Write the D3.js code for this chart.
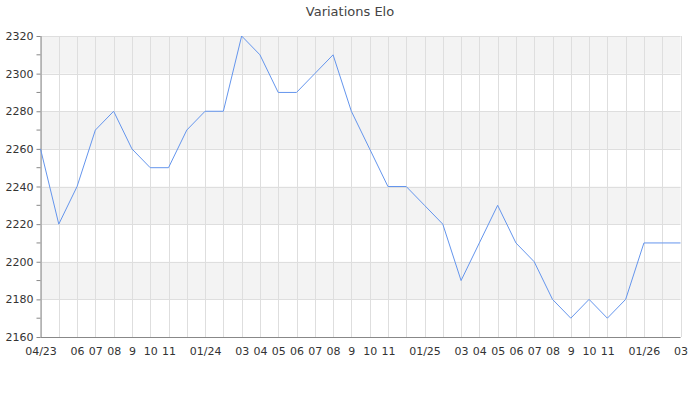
<!DOCTYPE html>
<html><head><meta charset="utf-8">
<script src="https://cdn.jsdelivr.net/npm/d3@7"></script>
<style>body{margin:0;background:#fff;font-family:"DejaVu Sans",sans-serif;}</style>
</head><body><svg id="c" width="700" height="400"></svg>
<script>
const months = ["2023-04","2023-05","2023-06","2023-07","2023-08","2023-09","2023-10","2023-11","2023-12",
"2024-01","2024-02","2024-03","2024-04","2024-05","2024-06","2024-07","2024-08","2024-09","2024-10","2024-11","2024-12",
"2025-01","2025-02","2025-03","2025-04","2025-05","2025-06","2025-07","2025-08","2025-09","2025-10","2025-11","2025-12",
"2026-01","2026-02","2026-03"];
const tickLabels = ["04/23","","06","07","08","9","10","11","",
"01/24","","03","04","05","06","07","08","9","10","11","",
"01/25","","03","04","05","06","07","08","9","10","11","",
"01/26","","03"];
const elo = [2260,2220,2240,2270,2280,2260,2250,2250,2270,
2280,2280,2320,2310,2290,2290,2300,2310,2280,2260,2240,2240,
2230,2220,2190,2210,2230,2210,2200,2180,2170,2180,2170,2180,
2210,2210,2210];
const yMajor = [2160,2180,2200,2220,2240,2260,2280,2300,2320];
const yMinor = [2170,2190,2210,2230,2250,2270,2290,2310];
const title = "Variations Elo";

const svg = d3.select("#c");
const L = 40.5, R = 680.5, T = 36, B = 337;
const x = d3.scalePoint().domain(months).range([L, R]);
const y = d3.scaleLinear().domain([2160, 2320]).range([B, T]);

// bands
const bands = [];
for (let i = 0; i < yMajor.length - 1; i++) if (i % 2 === 1) bands.push([yMajor[i], yMajor[i+1]]);
svg.append("g").selectAll("rect").data(bands).join("rect")
  .attr("x", L).attr("width", R - L)
  .attr("y", d => y(d[1])).attr("height", d => y(d[0]) - y(d[1]))
  .attr("fill", "#f3f3f3");

// grid
svg.append("g").selectAll("line").data(months).join("line")
  .attr("x1", d => Math.round(x(d)) + 0.5).attr("x2", d => Math.round(x(d)) + 0.5)
  .attr("y1", T).attr("y2", B)
  .attr("stroke", "#dedede").attr("stroke-width", 1);
svg.append("g").selectAll("line").data(yMajor).join("line")
  .attr("x1", L).attr("x2", R)
  .attr("y1", d => Math.round(y(d)) + 0.5).attr("y2", d => Math.round(y(d)) + 0.5)
  .attr("stroke", "#dedede").attr("stroke-width", 1);

// y axis
const yAxis = svg.append("g").attr("transform", `translate(${L},0)`)
  .call(d3.axisLeft(y).tickValues(yMajor).tickSize(4).tickPadding(3).tickFormat(d3.format("d")));
yAxis.append("g").selectAll("line").data(yMinor).join("line")
  .attr("x1", -4).attr("x2", 0)
  .attr("y1", d => y(d)).attr("y2", d => y(d)).attr("stroke", "#888");
// x axis
const xAxis = svg.append("g").attr("transform", `translate(0,${B})`)
  .call(d3.axisBottom(x).tickSize(0).tickPadding(10).tickFormat((d, i) => tickLabels[i]));
[yAxis, xAxis].forEach(a => {
  a.select(".domain").attr("stroke", "#888");
  a.selectAll(".tick line").attr("stroke", "#888");
  a.selectAll("text").attr("fill", "#333").attr("font-size", 11).attr("font-family", "DejaVu Sans");
});
yAxis.select(".domain").attr("d", `M0.5,${T}V${B}`);
xAxis.select(".domain").attr("d", `M${L},0.5H${R}`);

// line
svg.append("path").datum(elo)
  .attr("fill", "none").attr("stroke", "#6495ed").attr("stroke-width", 1)
  .attr("d", d3.line().x((d, i) => x(months[i])).y(d => y(d)));

svg.append("text").attr("x", 350).attr("y", 16).attr("text-anchor", "middle")
  .attr("font-size", 13).attr("fill", "#444").attr("font-family", "DejaVu Sans").text(title);
</script></body></html>
